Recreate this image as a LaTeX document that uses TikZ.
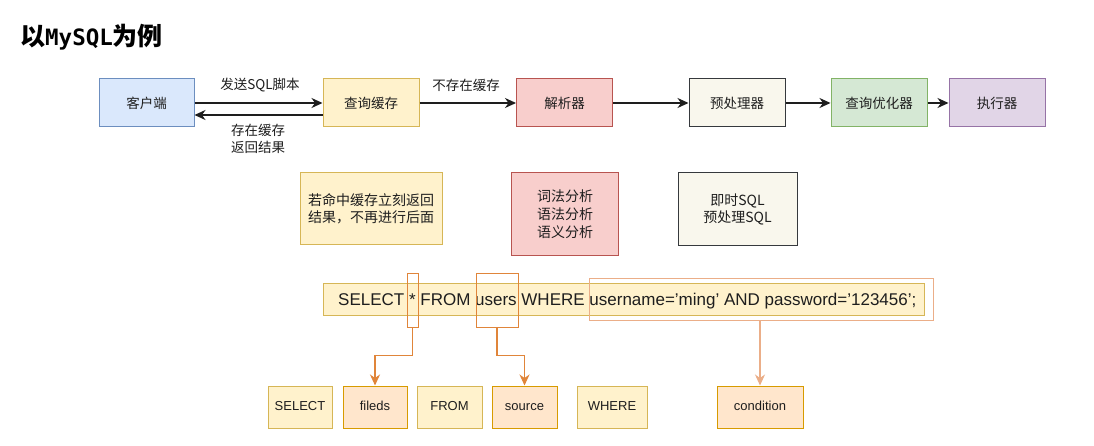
\documentclass[tikz,border=0pt]{standalone}
\usepackage{fontspec}
\setmainfont{Noto Sans CJK SC}
\newfontfamily\arialf{Liberation Sans}
\newfontfamily\monof{DejaVu Sans Mono}
\usetikzlibrary{arrows.meta,positioning,calc}
\definecolor{txt}{HTML}{1E1E1E}
\definecolor{blueF}{HTML}{DAE8FC}\definecolor{blueD}{HTML}{6C8EBF}
\definecolor{yelF}{HTML}{FFF2CC}\definecolor{yelD}{HTML}{D6B656}
\definecolor{redF}{HTML}{F8CECC}\definecolor{redD}{HTML}{B85450}
\definecolor{begF}{HTML}{F9F7ED}\definecolor{begD}{HTML}{36393D}
\definecolor{grnF}{HTML}{D5E8D4}\definecolor{grnD}{HTML}{82B366}
\definecolor{purF}{HTML}{E1D5E7}\definecolor{purD}{HTML}{9673A6}
\definecolor{orgF}{HTML}{FFE6CC}\definecolor{orgD}{HTML}{D79B00}
\definecolor{orgL}{HTML}{E0853A}
\definecolor{orgP}{HTML}{EBAE88}
\tikzset{
  box/.style={draw, line width=1pt, minimum width=96pt, minimum height=48pt, inner sep=0pt,
    text=txt, font=\fontsize{13.5}{16}\selectfont},
  note/.style={draw, line width=1pt, inner sep=0pt, align=center, text=txt,
    font=\fontsize{14}{17.5}\selectfont},
  arr/.style={line width=1.4pt, draw=txt, -{Stealth[length=11pt,width=10pt,inset=3.5pt]}},
  lbl/.style={text=txt, font=\fontsize{13.5}{17}\selectfont, align=center, inner sep=0pt},
  hl/.style={draw=orgL, line width=1pt, inner sep=0pt},
  oarr/.style={line width=1.2pt, draw=orgL, -{Stealth[length=11pt,width=10pt,inset=3.5pt]}},
  sbox/.style={draw, line width=1pt, minimum height=42pt, inner sep=0pt, text=txt,
    text height=9.5pt, text depth=2.5pt, font=\arialf\fontsize{13}{14}\selectfont},
}
\begin{document}
\begin{tikzpicture}[x=1pt,y=-1pt]
\useasboundingbox[fill=white] (0,0) rectangle (1094,446);
% title
\node[anchor=base west, inner sep=0pt, font=\bfseries\fontsize{25}{25}\selectfont] (title) at (20,45.5)
  {以{\monof\bfseries\fontsize{22.5}{22.5}\selectfont MySQL}为例};
% top row
\node[box, fill=blueF, draw=blueD, minimum width=95pt] (kh) at (146.5,103) {客户端};
\node[box, fill=yelF, draw=yelD] (cx) at (371,103) {查询缓存};
\node[box, fill=redF, draw=redD] (jx) at (564.5,103) {解析器};
\node[box, fill=begF, draw=begD] (yc) at (737,103) {预处理器};
\node[box, fill=grnF, draw=grnD] (yh) at (879,103) {查询优化器};
\node[box, fill=purF, draw=purD] (zx) at (997,103) {执行器};
\draw[arr] (kh.east) -- (cx.west);
\draw[arr] ([yshift=-12pt]cx.west) -- ([yshift=-12pt]kh.east);
\draw[arr] (cx.east) -- (jx.west);
\draw[arr] (jx.east) -- (yc.west);
\draw[arr] (yc.east) -- (yh.west);
\draw[arr] (yh.east) -- (zx.west);
\node[lbl] (l1) at (260,85) {发送SQL脚本};
\node[lbl] (l2) at (258,138.5) {存在缓存\\返回结果};
\node[lbl] (l3) at (466,85) {不存在缓存};
% second row
\node[note, fill=yelF, draw=yelD, minimum width=142pt, minimum height=72pt] (n1) at (371,209)
  {若命中缓存立刻返回\\结果，不再进行后面};
\node[note, fill=redF, draw=redD, minimum width=107pt, minimum height=83pt,
  font=\fontsize{14}{18}\selectfont] (n2) at (565,214.5)
  {词法分析\\语法分析\\语义分析};
\node[note, fill=begF, draw=begD, minimum width=119pt, minimum height=73pt] (n3) at (737.5,209.5)
  {即时SQL\\预处理SQL};
% SQL line
\node[draw=yelD, fill=yelF, line width=0.8pt, minimum width=601pt, minimum height=32pt, inner sep=0pt]
  (sql) at (623.5,299) {};
\node[anchor=base west, inner sep=0pt, text=txt, font=\arialf\fontsize{17}{20}\selectfont] (sqlt) at (338,305.5)
  {SELECT * FROM users WHERE username=’ming’ AND password=’123456’;};
\node[hl, minimum width=11pt, minimum height=54pt] (h1) at (412.5,300) {};
\node[hl, minimum width=42pt, minimum height=54pt] (h2) at (497,300) {};
\node[hl, draw=orgP, minimum width=344pt, minimum height=42pt] (h3) at (761,299) {};
% bottom boxes
\node[sbox, fill=yelF, draw=yelD, minimum width=64pt] (b1) at (300,407) {SELECT};
\node[sbox, fill=orgF, draw=orgD, minimum width=64pt] (b2) at (375,407) {fileds};
\node[sbox, fill=yelF, draw=yelD, minimum width=65pt] (b3) at (449.5,407) {FROM};
\node[sbox, fill=orgF, draw=orgD, minimum width=65pt] (b4) at (524.5,407) {source};
\node[sbox, fill=yelF, draw=yelD, minimum width=70pt] (b5) at (612,407) {WHERE};
\node[sbox, fill=orgF, draw=orgD, minimum width=86pt] (b6) at (760,407) {condition};
\draw[oarr] (h1.south) -- ++(0,28) -| (b2.north);
\draw[oarr] (h2.south) -- ++(0,28) -| (b4.north);
\draw[oarr, draw=orgP] (b6.north |- h3.south) -- (b6.north);
\end{tikzpicture}
\end{document}
